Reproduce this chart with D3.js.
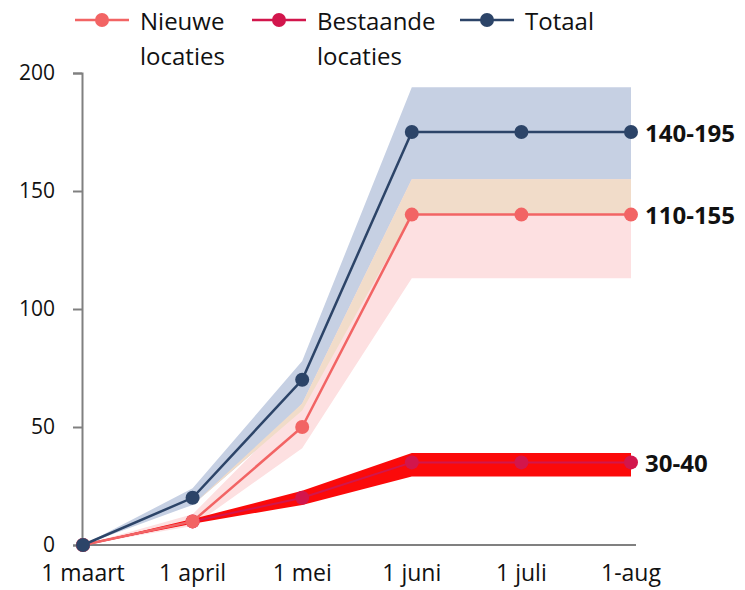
<!DOCTYPE html>
<html>
<head>
<meta charset="utf-8">
<script src="https://cdn.jsdelivr.net/npm/d3@7"></script>
<style>
  body { margin: 0; background: #fff; }
  svg { display: block; }
</style>
</head>
<body>
<svg id="chart" width="745" height="590"></svg>
<script>
// data
const months = ["1 maart", "1 april", "1 mei", "1 juni", "1 juli", "1-aug"];

const totaal = [0, 20, 70, 175, 175, 175];
const totaalLow = [0, 17, 57, 140, 140, 140];
const totaalHigh = [0, 24, 78, 194, 194, 194];

const nieuwe = [0, 10, 50, 140, 140, 140];
const nieuweLow = [0, 8, 41, 113, 113, 113];
const nieuweHigh = [0, 13, 60, 155, 155, 155];

const bestaande = [0, 10, 20, 35, 35, 35];
const bestaandeLow = [0, 9, 17, 29, 29, 29];
const bestaandeHigh = [0, 11, 23, 39, 39, 39];

const rangeLabels = ["140-195", "110-155", "30-40"];
const yTicks = [0, 50, 100, 150, 200];

const font = "'Open Sans', sans-serif";
const svg = d3.select("svg#chart");

const x = d3.scalePoint().domain(months).range([83, 631]);
const y = d3.scaleLinear().domain([0, 200]).range([545, 73]);

function band(lo, hi) {
	return d3.area()
		.x((d, i) => x(months[i]))
		.y0((d, i) => y(lo[i]))
		.y1((d, i) => y(hi[i]))(lo);
}
function line(vals) {
	return d3.line().x((d, i) => x(months[i])).y(d => y(d))(vals);
}

// bands
svg.append("path").attr("d", band(totaalLow, totaalHigh)).attr("fill", "#c6d0e3");
svg.append("path").attr("d", band(nieuweLow, nieuweHigh)).attr("fill", "#fde0e1");
// overlap of both bands shows as tan
const overLo = totaalLow.map((d, i) => Math.max(d, nieuweLow[i]));
const overHi = totaalHigh.map((d, i) => Math.max(overLo[i], Math.min(d, nieuweHigh[i])));
svg.append("path").attr("d", band(overLo, overHi)).attr("fill", "#f1dcc9");
svg.append("path").attr("d", band(bestaandeLow, bestaandeHigh)).attr("fill", "#fb0a0a");

// axes
const yAxis = svg.append("g").attr("transform", "translate(82,0)")
	.call(d3.axisLeft(y).tickValues(yTicks).tickSize(9).tickPadding(18));
yAxis.select(".domain").attr("stroke", "#808080").attr("stroke-width", 2);
yAxis.selectAll(".tick line").attr("stroke", "#808080").attr("stroke-width", 2);
yAxis.selectAll(".tick text").style("font", "21px " + font).attr("fill", "#111");

svg.append("line")
	.attr("x1", 82).attr("x2", 636)
	.attr("y1", y(0)).attr("y2", y(0))
	.attr("stroke", "#808080").attr("stroke-width", 2);

svg.append("g").selectAll("text").data(months).join("text")
	.attr("x", d => x(d)).attr("y", 581)
	.attr("text-anchor", "middle")
	.style("font", "23px " + font).attr("fill", "#111")
	.text(d => d);

// series lines and points
const series = [
	{ vals: bestaande, color: "#d2164c", w: 2 },
	{ vals: nieuwe, color: "#f26464", w: 2.5 },
	{ vals: totaal, color: "#2c4468", w: 2.5 }
];
series.forEach(function (s) {
	svg.append("path").attr("d", line(s.vals))
		.attr("fill", "none").attr("stroke", s.color).attr("stroke-width", s.w);
	svg.append("g").selectAll("circle").data(s.vals).join("circle")
		.attr("cx", (d, i) => x(months[i])).attr("cy", d => y(d))
		.attr("r", 7).attr("fill", s.color);
});

// range labels at the right
[totaal, nieuwe, bestaande].forEach(function (vals, i) {
	svg.append("text")
		.attr("x", 645).attr("y", y(vals[vals.length - 1]))
		.attr("dominant-baseline", "central")
		.style("font", "bold 24px " + font).attr("fill", "#111")
		.text(rangeLabels[i]);
});

// legend
const legend = [
	{ name: ["Nieuwe", "locaties"], color: "#f26464", x: 75 },
	{ name: ["Bestaande", "locaties"], color: "#d2164c", x: 252 },
	{ name: ["Totaal"], color: "#2c4468", x: 460 }
];
legend.forEach(function (l) {
	const g = svg.append("g").attr("transform", `translate(${l.x},20)`);
	g.append("line").attr("x1", 0).attr("x2", 54).attr("stroke", l.color).attr("stroke-width", 2.5);
	g.append("circle").attr("cx", 27).attr("r", 7).attr("fill", l.color);
	l.name.forEach(function (t, j) {
		g.append("text")
			.attr("x", 65).attr("y", j * 35)
			.attr("dominant-baseline", "central")
			.style("font", "24px " + font).attr("fill", "#111")
			.text(t);
	});
});
</script>
</body>
</html>
